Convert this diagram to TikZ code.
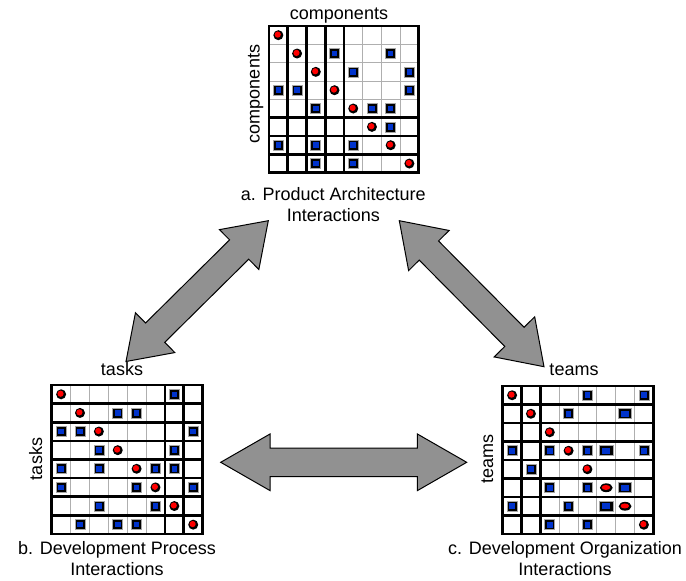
\documentclass[tikz,border=0pt]{standalone}
\usepackage{fontspec}
\setmainfont{Liberation Sans}
\usetikzlibrary{calc}
\definecolor{dsmred}{RGB}{255,0,0}
\definecolor{dsmblue}{RGB}{0,51,204}
\definecolor{arrowgray}{RGB}{145,145,145}
\definecolor{gridgray}{RGB}{175,175,175}
\tikzset{
  gridthin/.style={draw=gridgray, line width=0.9pt},
  gridthick/.style={draw=black, line width=2.7pt, line cap=rect},
  lbl/.style={inner sep=0pt, anchor=base, font=\fontsize{18}{21}\selectfont},
  blockarrow/.style={draw=black, fill=arrowgray, line width=1pt, line join=miter},
  dot/.style={fill=black},
}
% grid of an 8x8 matrix: #1 thick vertical lines, #2 thick horizontal lines
\newcommand\dsmgrid[2]{%
  \foreach \i in {1,...,7} {\draw[gridthin] (\i,0) -- (\i,8); \draw[gridthin] (0,\i) -- (8,\i);}
  \foreach \i in {#1} {\draw[gridthick] (\i,0) -- (\i,8);}
  \foreach \i in {#2} {\draw[gridthick] (0,\i) -- (8,\i);}
  \draw[gridthick] (0,0) rectangle (8,8);
}
\newcommand\mkcirc[2]{%
  \fill[black] (#2-0.5,#1-0.5) circle (5pt);
  \fill[dsmred] ([shift={(-0.6pt,0.6pt)}]#2-0.5,#1-0.5) circle (3.1pt);
}
\newcommand\mkell[2]{%
  \fill[black] (#2-0.5,#1-0.5) ellipse (6.4pt and 4.4pt);
  \fill[dsmred] ([shift={(-0.3pt,0.3pt)}]#2-0.5,#1-0.5) ellipse (4.3pt and 2.5pt);
}
\newcommand\mksq[2]{%
  \filldraw[draw=gray!70, fill=black, line width=0.7pt] ([shift={(-5pt,-5pt)}]#2-0.5,#1-0.5) rectangle ++(10pt,10pt);
  \fill[dsmblue] ([shift={(-2.8pt,-2.8pt)}]#2-0.5,#1-0.5) rectangle ++(5.6pt,5.6pt);
}
\newcommand\mkwide[2]{%
  \filldraw[draw=gray!70, fill=black, line width=0.7pt] ([shift={(-6.6pt,-5pt)}]#2-0.5,#1-0.5) rectangle ++(13.2pt,10pt);
  \fill[dsmblue] ([shift={(-4.2pt,-2.8pt)}]#2-0.5,#1-0.5) rectangle ++(8.4pt,5.6pt);
}
% double block arrow between tips #1 and #2; #3 head length, #4 head half width, #5 shaft half width
\newcommand\dblarrow[5]{%
  \coordinate (#1b) at ($(#1)!#3!(#2)$);
  \coordinate (#2b) at ($(#2)!#3!(#1)$);
  \draw[blockarrow] (#1) -- ($(#1b)!#4!90:(#2)$) -- ($(#1b)!#5!90:(#2)$)
    -- ($(#2b)!#5!-90:(#1)$) -- ($(#2b)!#4!-90:(#1)$) -- (#2)
    -- ($(#2b)!#4!90:(#1)$) -- ($(#2b)!#5!90:(#1)$)
    -- ($(#1b)!#5!-90:(#2)$) -- ($(#1b)!#4!-90:(#2)$) -- cycle;
}
\begin{document}
\begin{tikzpicture}[x=1pt, y=-1pt]
\useasboundingbox (0,0) rectangle (686,581);

% ---------- matrix a: product architecture ----------
\begin{scope}[shift={(269,26)}, x=18.72pt, y=-18.34pt]
  \coordinate (matA) at (0,0);
  \dsmgrid{1,2,3,4}{5,6,7}
  \foreach \r in {1,...,8} {\mkcirc{\r}{\r}}
  \foreach \r/\c in {2/4,2/7,3/5,3/8,4/1,4/2,4/8,5/3,5/6,5/7,6/7,7/1,7/3,7/5,8/3,8/5} {\mksq{\r}{\c}}
\end{scope}
\node[lbl] (compTop) at (339,19.3) {components};
\node[lbl, rotate=90] (compSide) at (259.5,94) {components};
\node[lbl] (capA1) at (333.3,200.7) {a. Product Architecture};
\node[lbl] (capA2) at (333.3,221.7) {Interactions};

% ---------- matrix b: development process ----------
\begin{scope}[shift={(51.7,385)}, x=18.87pt, y=-18.62pt]
  \coordinate (matB) at (0,0);
  \dsmgrid{6,7}{1,2,3,4,5,6,7}
  \foreach \r in {1,...,8} {\mkcirc{\r}{\r}}
  \foreach \r/\c in {1/7,2/4,2/5,3/1,3/2,3/8,4/3,4/7,5/1,5/3,5/6,5/7,6/1,6/5,6/8,7/3,7/6,8/2,8/4,8/5} {\mksq{\r}{\c}}
\end{scope}
\node[lbl] (taskTop) at (122,375) {tasks};
\node[lbl, rotate=90] (taskSide) at (42,459) {tasks};
\node[lbl] (capB1) at (117,554) {b. Development Process};
\node[lbl] (capB2) at (117,575) {Interactions};

% ---------- matrix c: development organization ----------
\begin{scope}[shift={(502.7,386)}, x=18.83pt, y=-18.5pt]
  \coordinate (matC) at (0,0);
  \dsmgrid{1,2}{1,2,3,4,5,6,7}
  \foreach \r in {1,2,3,4,5,8} {\mkcirc{\r}{\r}}
  \mkell{6}{6}
  \mkell{7}{7}
  \foreach \r/\c in {1/5,1/8,2/4,4/1,4/3,4/5,4/8,5/2,6/3,6/5,7/1,7/4,8/3,8/5} {\mksq{\r}{\c}}
  \foreach \r/\c in {2/7,4/6,6/7,7/6} {\mkwide{\r}{\c}}
\end{scope}
\node[lbl] (teamTop) at (574,375) {teams};
\node[lbl, rotate=90] (teamSide) at (493,459) {teams};
\node[lbl] (capC1) at (565,554) {c. Development Organization};
\node[lbl] (capC2) at (565,575) {Interactions};

% ---------- arrows ----------
\coordinate (ABtop) at (268.3,220.7);
\coordinate (ABbot) at (126,361.5);
\dblarrow{ABbot}{ABtop}{41pt}{28pt}{13.6pt}
\coordinate (ACtop) at (399.3,220.7);
\coordinate (ACbot) at (544,366.7);
\dblarrow{ACtop}{ACbot}{42pt}{28.5pt}{13.6pt}
\coordinate (BCleft) at (220.7,462.3);
\coordinate (BCright) at (466.7,462.3);
\dblarrow{BCleft}{BCright}{49.3pt}{28.3pt}{14.2pt}
\end{tikzpicture}
\end{document}
